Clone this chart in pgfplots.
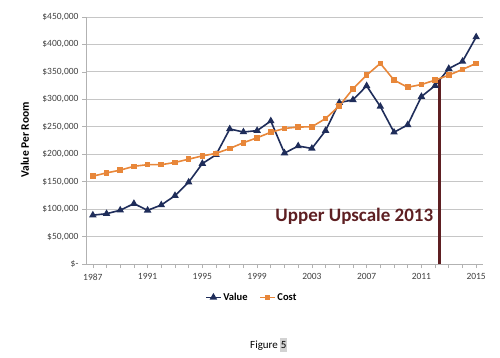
\documentclass[border=0pt]{standalone}
\usepackage{pgfplots}
\pgfplotsset{compat=1.18}
\usepackage{fontspec}
\setmainfont{Carlito}
\definecolor{navy}{HTML}{1F2D5A}
\definecolor{orng}{HTML}{E8873A}
\definecolor{maroon}{HTML}{5E1F22}
\definecolor{tick}{HTML}{404040}
\begin{document}
\begin{tikzpicture}
\useasboundingbox (0pt,0pt) rectangle (500pt,357pt);
\begin{axis}[
  at={(86pt,93pt)}, anchor=south west,
  width=397pt, height=247pt, scale only axis,
  xmin=1986.5, xmax=2015.5, ymin=0, ymax=450000,
  axis lines*=left,
  axis line style={gray!60, line width=0.8pt},
  xtick={1987,1991,...,2015},
  xticklabels={1987,1991,1995,1999,2003,2007,2011,2015},
  minor xtick={1987,...,2015},
  ytick={0,50000,...,450000},
  yticklabels={\$-,\$50{,}000,\$100{,}000,\$150{,}000,\$200{,}000,\$250{,}000,\$300{,}000,\$350{,}000,\$400{,}000,\$450{,}000},
  scaled y ticks=false,
  tick align=outside,
  major tick length=4pt, minor tick length=4pt,
  tick style={gray!60, line width=0.6pt},
  ymajorgrids, grid style={gray!45, line width=0.8pt},
  ticklabel style={font=\fontsize{9.5}{11}\selectfont, text=tick},
  xticklabel style={yshift=-2pt},
  legend style={at={(0.418,-0.135)}, anchor=center, draw=none, fill=none,
    font=\fontsize{10.5}{12}\selectfont\bfseries, legend columns=2,
    /tikz/every even column/.append style={column sep=10pt}},
  legend image code/.code={\draw[#1] (0cm,0cm) -- (0.5cm,0cm); \draw[#1, mark repeat=1] plot coordinates {(0.25cm,0cm)};},
  clip=false,
]
\addplot[navy, line width=1.6pt, mark=triangle*, mark size=2.8pt, mark options={solid}] coordinates {
(1987,89000) (1988,91600) (1989,98000) (1990,110000) (1991,97800) (1992,107500)
(1993,124500) (1994,149000) (1995,183000) (1996,199000) (1997,246000) (1998,240500)
(1999,243000) (2000,260500) (2001,202000) (2002,215000) (2003,210500) (2004,243000)
(2005,294000) (2006,299000) (2007,324500) (2008,287000) (2009,240000) (2010,253500)
(2011,305000) (2012,325000) (2013,356000) (2014,369000) (2015,413500)};
\addlegendentry{Value}
\addplot[orng, line width=1.6pt, mark=square*, mark size=2pt] coordinates {
(1987,160000) (1988,166000) (1989,171000) (1990,178000) (1991,181000) (1992,181000)
(1993,185000) (1994,191000) (1995,197000) (1996,201500) (1997,210500) (1998,221000)
(1999,230000) (2000,240000) (2001,247000) (2002,249500) (2003,250000) (2004,265000)
(2005,288000) (2006,319000) (2007,344000) (2008,365500) (2009,335000) (2010,322000)
(2011,327000) (2012,335000) (2013,344000) (2014,354500) (2015,365500)};
\addlegendentry{Cost}
\addplot[maroon, line width=2.4pt, forget plot] coordinates {(2012.33,0) (2012.33,335000)};
\node[text=maroon, font=\fontsize{19}{22}\selectfont\bfseries, anchor=center] at (axis cs:2006.1,86000) {Upper Upscale 2013};
\end{axis}
\node[rotate=90, font=\fontsize{11.5}{13}\selectfont\bfseries, text=black] at (25pt,217pt) {Value Per Room};
\node[anchor=west, font=\fontsize{11}{13}\selectfont, inner sep=0pt] at (250pt,12pt) {Figure \colorbox{gray!35}{\hspace{-2.6pt}5\hspace{-2.6pt}}};
\end{tikzpicture}
\end{document}
